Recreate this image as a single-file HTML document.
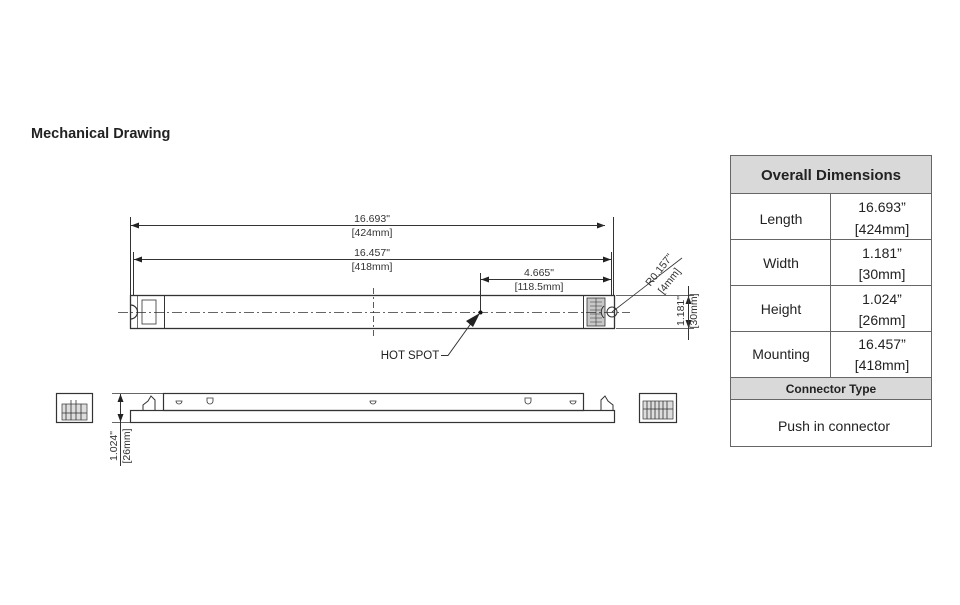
<!DOCTYPE html>
<html><head><meta charset="utf-8"><style>
html,body{margin:0;padding:0;background:#fff;}
body{width:960px;height:600px;position:relative;overflow:hidden;font-family:"Liberation Sans",sans-serif;}
</style></head><body>
<svg width="960" height="600" viewBox="0 0 960 600" xmlns="http://www.w3.org/2000/svg" font-family="Liberation Sans, sans-serif">
<defs>
<marker id="a" markerWidth="8" markerHeight="6" refX="8" refY="3" orient="auto" markerUnits="userSpaceOnUse"><path d="M0,0 L8,3 L0,6z" fill="#222"/></marker>
</defs>
<text x="31" y="138" font-size="14.5" font-weight="bold" fill="#222">Mechanical Drawing</text>

<g stroke="#333" fill="none" stroke-width="1">
<line x1="130.5" y1="217" x2="130.5" y2="296"/>
<line x1="613.5" y1="217" x2="613.5" y2="296"/>
<line x1="133.5" y1="252" x2="133.5" y2="296"/>
<line x1="611.5" y1="252" x2="611.5" y2="296"/>
<line x1="480.5" y1="273" x2="480.5" y2="312"/>
<line x1="140" y1="225.5" x2="605" y2="225.5" marker-end="url(#a)"/>
<line x1="605" y1="225.5" x2="131" y2="225.5" marker-end="url(#a)"/>
<line x1="140" y1="259.5" x2="611" y2="259.5" marker-end="url(#a)"/>
<line x1="540" y1="259.5" x2="134" y2="259.5" marker-end="url(#a)"/>
<line x1="540" y1="279.5" x2="611" y2="279.5" marker-end="url(#a)"/>
<line x1="540" y1="279.5" x2="481" y2="279.5" marker-end="url(#a)"/>
<rect x="130.5" y="295.5" width="484" height="33" stroke-width="1.3"/>
<line x1="164.5" y1="295.5" x2="164.5" y2="328.5"/>
<line x1="583.5" y1="295.5" x2="583.5" y2="328.5"/>
<line x1="137.5" y1="295.5" x2="137.5" y2="328.5" stroke-width=".7"/>
<rect x="142" y="300" width="14" height="24" stroke-width=".8"/>
<path d="M130.5,305 a7,7 0 0 1 0,14" stroke-width="1.2"/>
<rect x="587" y="298" width="18" height="28" fill="#c8c8c8" stroke="#333" stroke-width=".8"/>
<path d="M590,302h12M590,306h12M590,310h12M590,314h12M590,318h12M590,322h12M596,298v28" stroke-width=".6"/>
<circle cx="612" cy="312" r="5"/>
<path d="M604,306 a8,8 0 0 0 0,12" />
<line x1="118" y1="312.5" x2="630" y2="312.5" stroke-dasharray="10,3,2,3" stroke-width=".8"/>
<line x1="373.5" y1="288" x2="373.5" y2="336" stroke-dasharray="6,3,2,3" stroke-width=".8"/>
<polyline points="441,355.5 448,355.5 472,322"/>
<line x1="612" y1="312" x2="682" y2="258" stroke-width=".8"/>
<line x1="616" y1="295.5" x2="694" y2="295.5" stroke-width=".7"/>
<line x1="616" y1="328.5" x2="694" y2="328.5" stroke-width=".7"/>
<line x1="688.5" y1="312" x2="688.5" y2="296" marker-end="url(#a)"/>
<line x1="688.5" y1="312" x2="688.5" y2="328" marker-end="url(#a)"/>
<line x1="688.5" y1="286" x2="688.5" y2="340"/>

<rect x="130.5" y="410.5" width="484" height="12" stroke-width="1.2"/>
<rect x="163.5" y="393.5" width="420" height="17" stroke-width="1.2"/>
<path d="M143,410 v-5 l5,-4 l3,-5 l4,4 v10" />
<path d="M601,410 v-10 l4,-4 l3,5 l5,4 v5" />
<path d="M207,398 h6 v3 a3,3 0 0 1 -6,0z M370,401 h6 a3,3 0 0 1 -6,0z M525,398 h6 v3 a3,3 0 0 1 -6,0z M570,401 h6 a3,3 0 0 1 -6,0z M176,401 h6 a3,3 0 0 1 -6,0z" stroke-width=".8"/>
<line x1="112" y1="393.5" x2="164" y2="393.5" stroke-width=".7"/>
<line x1="112" y1="422.5" x2="130" y2="422.5" stroke-width=".7"/>
<line x1="120.5" y1="408" x2="120.5" y2="394" marker-end="url(#a)"/>
<line x1="120.5" y1="408" x2="120.5" y2="422" marker-end="url(#a)"/>
<line x1="120.5" y1="422" x2="120.5" y2="466"/>
<rect x="56.5" y="393.5" width="36" height="29" stroke-width="1.2"/>
<rect x="62" y="404" width="25" height="16" fill="#ddd" stroke="#333" stroke-width=".7"/>
<path d="M66,404v16M71,400v20M76,400v20M81,404v16M62,413h25" stroke-width=".8"/>
<rect x="639.5" y="393.5" width="37" height="29" stroke-width="1.2"/>
<rect x="643" y="401" width="30" height="18" fill="#ddd" stroke="#333" stroke-width=".7"/>
<path d="M647,401v18M651,401v18M655,401v18M659,401v18M663,401v18M667,401v18M643,409h30" stroke-width=".8"/>
</g>
<circle cx="480.5" cy="312.5" r="2" fill="#111"/>
<path d="M480,313 L466,321 L473,327z" fill="#222"/>

<g font-size="10.5" fill="#333" text-anchor="middle">
<text x="372" y="222">16.693"</text>
<text x="372" y="236">[424mm]</text>
<text x="372" y="256">16.457"</text>
<text x="372" y="270">[418mm]</text>
<text x="539" y="276">4.665"</text>
<text x="539" y="290">[118.5mm]</text>
<text x="410" y="359" font-size="11.5" fill="#222">HOT SPOT</text>
<text transform="translate(662,272) rotate(-52)" >R0.157"</text>
<text transform="translate(672,283) rotate(-52)" >[4mm]</text>
<text transform="translate(684,311) rotate(-90)">1.181"</text>
<text transform="translate(697,311) rotate(-90)">[30mm]</text>
<text transform="translate(117,446) rotate(-90)">1.024"</text>
<text transform="translate(130,446) rotate(-90)">[26mm]</text>
</g>

<g stroke="#666" stroke-width="1">
<rect x="730.5" y="155.5" width="201" height="38" fill="#d9d9d9"/>
<rect x="730.5" y="377.5" width="201" height="22" fill="#d9d9d9"/>
<rect x="730.5" y="155.5" width="201" height="291" fill="none"/>
<line x1="730" y1="193.5" x2="932" y2="193.5"/>
<line x1="730" y1="239.5" x2="932" y2="239.5"/>
<line x1="730" y1="285.5" x2="932" y2="285.5"/>
<line x1="730" y1="331.5" x2="932" y2="331.5"/>
<line x1="830.5" y1="193" x2="830.5" y2="377"/>
</g>
<g fill="#222" text-anchor="middle" font-size="14">
<text x="831" y="180" font-weight="bold" font-size="15">Overall Dimensions</text>
<text x="781" y="224">Length</text>
<text x="781" y="268">Width</text>
<text x="781" y="314">Height</text>
<text x="781" y="359">Mounting</text>
<text x="882" y="212">16.693”</text><text x="882" y="234">[424mm]</text>
<text x="882" y="258">1.181”</text><text x="882" y="279">[30mm]</text>
<text x="882" y="304">1.024”</text><text x="882" y="325">[26mm]</text>
<text x="882" y="349">16.457”</text><text x="882" y="370">[418mm]</text>
<text x="831" y="393" font-weight="bold" font-size="12">Connector Type</text>
<text x="834" y="431">Push in connector</text>
</g>
</svg>
</body></html>
